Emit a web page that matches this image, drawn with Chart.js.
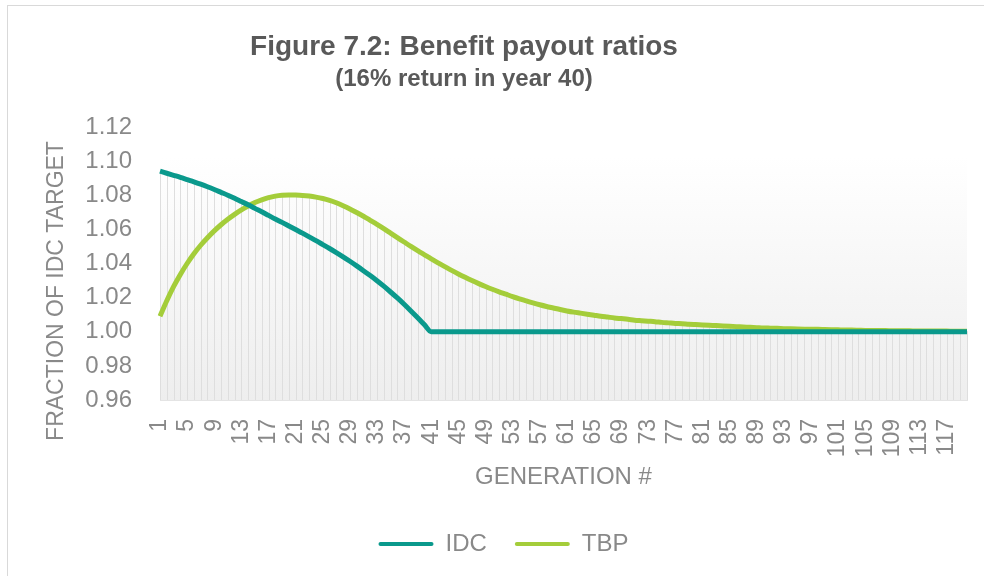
<!DOCTYPE html>
<html>
<head>
<meta charset="utf-8">
<script src="https://cdn.jsdelivr.net/npm/chart.js@4"></script>
<style>
  html, body { margin: 0; padding: 0; background: #fff; }
  #wrap { position: relative; width: 984px; height: 576px; overflow: hidden; }
  #frame { position: absolute; left: 7px; top: 5px; width: 1200px; height: 800px;
           border-left: 1px solid #d9d9d9; border-top: 1px solid #d9d9d9; }
  canvas { position: absolute; left: 0; top: 0; }
</style>
</head>
<body>
<div id="wrap">
  <div id="frame"></div>
  <canvas id="myChart" width="984" height="576"></canvas>
</div>
<script>
const generations = [];
for (let g = 1; g <= 120; g++) generations.push(String(g));

const xTickLabels = ["1", "5", "9", "13", "17", "21", "25", "29", "33", "37", "41", "45", "49", "53",
  "57", "61", "65", "69", "73", "77", "81", "85", "89", "93", "97", "101", "105", "109", "113", "117"];
const yTickValues = [0.96, 0.98, 1.0, 1.02, 1.04, 1.06, 1.08, 1.1, 1.12];

const idc = [
  1.0941, 1.0929, 1.0917, 1.0905, 1.0892, 1.0879, 1.0865, 1.0850, 1.0834, 1.0817,
  1.0800, 1.0782, 1.0763, 1.0744, 1.0723, 1.0703, 1.0682, 1.0661, 1.0641, 1.0620,
  1.0599, 1.0578, 1.0556, 1.0534, 1.0511, 1.0488, 1.0464, 1.0439, 1.0413, 1.0386,
  1.0358, 1.0329, 1.0299, 1.0267, 1.0233, 1.0198, 1.0161, 1.0122, 1.0082, 1.0041,
  1.0000, 1.0000, 1.0000, 1.0000, 1.0000, 1.0000, 1.0000, 1.0000, 1.0000, 1.0000,
  1.0000, 1.0000, 1.0000, 1.0000, 1.0000, 1.0000, 1.0000, 1.0000, 1.0000, 1.0000,
  1.0000, 1.0000, 1.0000, 1.0000, 1.0000, 1.0000, 1.0000, 1.0000, 1.0000, 1.0000,
  1.0000, 1.0000, 1.0000, 1.0000, 1.0000, 1.0000, 1.0000, 1.0000, 1.0000, 1.0000,
  1.0000, 1.0000, 1.0000, 1.0000, 1.0000, 1.0000, 1.0000, 1.0000, 1.0000, 1.0000,
  1.0000, 1.0000, 1.0000, 1.0000, 1.0000, 1.0000, 1.0000, 1.0000, 1.0000, 1.0000,
  1.0000, 1.0000, 1.0000, 1.0000, 1.0000, 1.0000, 1.0000, 1.0000, 1.0000, 1.0000,
  1.0000, 1.0000, 1.0000, 1.0000, 1.0000, 1.0000, 1.0000, 1.0000, 1.0000, 1.0000,
];

const tbp = [
  1.0091, 1.0182, 1.0264, 1.0336, 1.0400, 1.0457, 1.0507, 1.0551, 1.0591, 1.0627,
  1.0659, 1.0688, 1.0714, 1.0737, 1.0757, 1.0773, 1.0786, 1.0795, 1.0800, 1.0802,
  1.0801, 1.0799, 1.0795, 1.0789, 1.0781, 1.0770, 1.0756, 1.0739, 1.0720, 1.0699,
  1.0677, 1.0653, 1.0629, 1.0604, 1.0578, 1.0552, 1.0526, 1.0500, 1.0475, 1.0451,
  1.0427, 1.0404, 1.0382, 1.0360, 1.0339, 1.0319, 1.0300, 1.0282, 1.0265, 1.0249,
  1.0234, 1.0220, 1.0206, 1.0193, 1.0181, 1.0169, 1.0158, 1.0148, 1.0139, 1.0130,
  1.0122, 1.0115, 1.0109, 1.0103, 1.0097, 1.0091, 1.0086, 1.0081, 1.0077, 1.0073,
  1.0068, 1.0065, 1.0062, 1.0059, 1.0055, 1.0052, 1.0049, 1.0047, 1.0044, 1.0042,
  1.0040, 1.0038, 1.0036, 1.0034, 1.0032, 1.0030, 1.0028, 1.0026, 1.0024, 1.0022,
  1.0021, 1.0020, 1.0018, 1.0017, 1.0016, 1.0015, 1.0014, 1.0014, 1.0013, 1.0012,
  1.0011, 1.0010, 1.0010, 1.0009, 1.0008, 1.0008, 1.0007, 1.0007, 1.0006, 1.0006,
  1.0006, 1.0005, 1.0005, 1.0005, 1.0004, 1.0004, 1.0004, 1.0003, 1.0003, 1.0003,
];

const FONT = "'Liberation Sans', Arial, sans-serif";
const GREY = "#898989";

// shaded plot background + thin vertical lines under the curves
const plotShading = {
  id: "plotShading",
  beforeDatasetsDraw(chart) {
    const { ctx, chartArea: a, scales: { x, y } } = chart;
    const top = y.getPixelForValue(1.1025);
    ctx.save();
    const grad = ctx.createLinearGradient(0, top, 0, a.bottom);
    grad.addColorStop(0, "#ffffff");
    grad.addColorStop(1, "#eeeeee");
    ctx.fillStyle = grad;
    ctx.fillRect(a.left, top, a.right - a.left, a.bottom - top);
    ctx.strokeStyle = "#dedede";
    ctx.lineWidth = 1;
    generations.forEach((g, i) => {
      const px = Math.round(x.getPixelForValue(i)) + 0.5;
      const py = y.getPixelForValue(Math.max(idc[i], tbp[i]));
      ctx.beginPath();
      ctx.moveTo(px, a.bottom);
      ctx.lineTo(px, py);
      ctx.stroke();
    });
    ctx.restore();
  },
};

// titles placed like the original
const headings = {
  id: "headings",
  afterDraw(chart) {
    const { ctx } = chart;
    ctx.save();
    ctx.textAlign = "center";
    ctx.textBaseline = "alphabetic";
    ctx.fillStyle = "#595959";
    ctx.font = "bold 28px " + FONT;
    ctx.fillText("Figure 7.2: Benefit payout ratios", 464, 55);
    ctx.font = "bold 24px " + FONT;
    ctx.fillText("(16% return in year 40)", 464, 86);
    ctx.translate(63, 291);
    ctx.rotate(-Math.PI / 2);
    ctx.fillStyle = GREY;
    ctx.font = "23px " + FONT;
    ctx.fillText("FRACTION OF IDC TARGET", 0, 0);
    ctx.restore();
  },
};

const ctx = document.getElementById("myChart");

new Chart(ctx, {
  type: "line",
  data: {
    labels: generations,
    datasets: [
      {
        label: "IDC",
        data: idc,
        borderColor: "#0a998c",
        backgroundColor: "#0a998c",
        borderWidth: 5,
        pointRadius: 0,
        cubicInterpolationMode: "monotone",
      },
      {
        label: "TBP",
        data: tbp,
        borderColor: "#a4cd3a",
        backgroundColor: "#a4cd3a",
        borderWidth: 5,
        pointRadius: 0,
        cubicInterpolationMode: "monotone",
      },
    ],
  },
  options: {
    responsive: false,
    animation: false,
    devicePixelRatio: 1,
    layout: { padding: { top: 127, left: 40, right: 17, bottom: 10 } },
    plugins: {
      title: { display: false },
      tooltip: { enabled: false },
      legend: {
        position: "bottom",
        labels: {
          color: GREY,
          font: { family: FONT, size: 24 },
          boxWidth: 55,
          boxHeight: 4,
          padding: 28,
          generateLabels(chart) {
            return chart.data.datasets.map((ds, i) => ({
              text: ds.label,
              fillStyle: ds.borderColor,
              strokeStyle: ds.borderColor,
              lineWidth: 0,
              borderRadius: 2,
              fontColor: GREY,
              datasetIndex: i,
              hidden: false,
            }));
          },
        },
      },
    },
    scales: {
      x: {
        grid: { display: false, drawTicks: false },
        border: { display: true, color: "#e4e4e4" },
        ticks: {
          autoSkip: false,
          maxRotation: 90,
          minRotation: 90,
          padding: 19,
          color: GREY,
          font: { family: FONT, size: 23 },
          callback(v, i) {
            const lab = generations[i];
            return xTickLabels.includes(lab) ? lab : "";
          },
        },
        title: {
          display: true,
          text: "GENERATION #",
          color: GREY,
          font: { family: FONT, size: 24 },
          padding: { top: 0, bottom: 12 },
        },
        afterFit(scale) {
          scale.paddingLeft = 0;
          scale.paddingRight = 0;
          scale.height = 104;
        },
      },
      y: {
        min: 0.96,
        max: 1.12,
        grid: { display: false, drawTicks: false },
        border: { display: false },
        ticks: {
          padding: 28,
          color: GREY,
          font: { family: FONT, size: 24 },
          callback: (v) => v.toFixed(2),
        },
        afterBuildTicks(scale) {
          scale.ticks = yTickValues.map((v) => ({ value: v }));
        },
        afterFit(scale) {
          scale.width = 120;
        },
      },
    },
  },
  plugins: [plotShading, headings],
});
</script>
</body>
</html>
